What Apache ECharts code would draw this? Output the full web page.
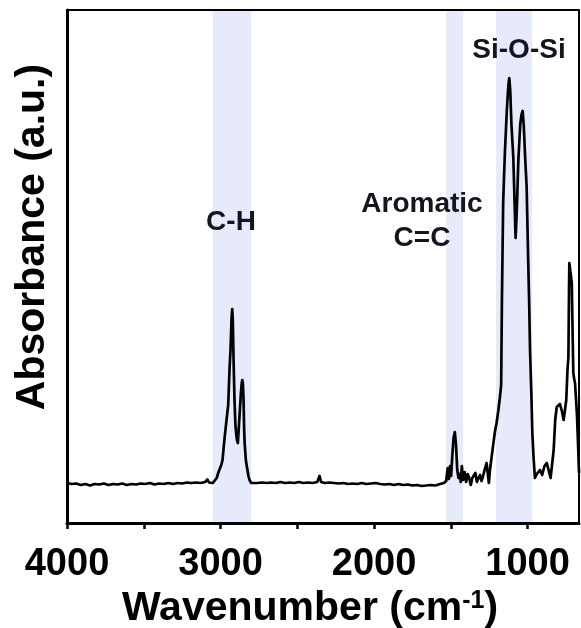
<!DOCTYPE html>
<html><head><meta charset="utf-8">
<script src="https://cdn.jsdelivr.net/npm/echarts@6/dist/echarts.min.js"></script>
<style>html,body{margin:0;padding:0;background:#fff}#c{width:581px;height:628px}</style>
</head><body><div id="c"></div>
<script>
const wavenumbers = [4000,3970,3940,3910,3880,3850,3820,3790,3760,3730,3700,3670,3640,3610,3580,3550,3520,3490,3460,3430,3400,3370,3340,3310,3280,3250,3220,3190,3160,3130,3100,3085,3075,3050,3039,3025,3013,2995,2987,2975,2963,2950,2941,2935,2928,2924,2920,2915,2909,2903,2899,2893,2887,2881,2876,2868,2862,2858,2854,2850,2846,2843,2835,2828,2818,2811,2800,2790,2760,2730,2700,2670,2640,2610,2580,2550,2520,2490,2460,2430,2400,2370,2355,2345,2320,2290,2260,2230,2200,2170,2140,2110,2080,2050,2020,1990,1960,1930,1900,1870,1840,1810,1780,1750,1720,1690,1660,1630,1600,1570,1545,1530,1520,1512,1505,1498,1490,1482,1474,1466,1458,1450,1442,1435,1428,1420,1410,1400,1390,1380,1370,1360,1350,1340,1330,1320,1310,1300,1290,1280,1267,1258,1252,1245,1235,1224,1213,1202,1190,1180,1172,1167,1159,1153,1147,1135,1125,1119,1113,1105,1093,1085,1078,1070,1060,1048,1040,1032,1025,1015,1006,996,990,984,975,969,960,952,940,930,919,905,890,875,860,850,843,830,820,810,800,789,775,765,756,748,740,734,730,728,724,718,712,707,702,695,691,684,678,671,665];
const absorbance = [40,39,39.5,38,39,37.5,39,38.5,39.5,38,39,38.5,39.5,38,39,38.5,39.5,39,40,38.5,39.5,39,40,39,40,39.5,40.5,40,40.5,40,41,43.5,40.5,40,41,45,51,58,63,83,100,118,155,173,205,214,203,163,123,98,91,83,80,95,108,128,140,143,139,123,93,80,63,56,47,43,40,39,40,40.5,40,40.5,40,41,40,40.5,40,41,40,40.5,40,41,47,41,40,40.5,40,39.5,40,39,39.5,39,40,39,39.5,40,39,38.5,39,38,39,38,38.5,37.5,38,37,37.5,38,37.5,39,40,42,55,44,57,47,68,85,91,78,53,45,49,41,57,43,51,41,49,45,38,45,43,50,41,45,48,42,47,53,60,48,40,53,65,78,91,100,113,126,138,223,320,348,373,413,438,445,433,398,366,323,285,313,363,398,408,412,398,363,336,263,223,173,128,90,63,45,49,47,53,48,57,60,51,45,43,73,103,116,118,119,111,103,101,123,153,166,233,260,261,248,240,193,150,143,140,123,107,78,50];
const tickValues = [4000,3500,3000,2500,2000,1500,1000];
const labelValues = [4000,3000,2000,1000];
const bands = [[3050,2800],[1530,1420],[1205,970]];
const bandNames = ['C-H','Aromatic\nC=C','Si-O-Si'];
const xTitle = 'Wavenumber (cm';
const yTitle = 'Absorbance (a.u.)';

const FONT = '"Liberation Sans", Arial, sans-serif';
const data = wavenumbers.map((w,i)=>[w, absorbance[i]]);
const chart = echarts.init(document.getElementById('c'), null, {renderer:'canvas'});
const xMin = 665, xMax = 4000;
chart.setOption({
  animation:false,
  backgroundColor:'#fff',
  grid:{left:67, right:2, top:10, bottom:105, containLabel:false},
  xAxis:[{
    type:'value', inverse:true, min:xMin, max:xMax, position:'bottom', z:10,
    axisLine:{show:true, lineStyle:{color:'#000', width:3}},
    axisTick:{show:true, customValues:tickValues, length:6, inside:false, lineStyle:{color:'#000', width:2.5}},
    axisLabel:{show:true, customValues:labelValues, formatter:v=>String(v), fontSize:38, fontWeight:'bold', fontFamily:FONT, color:'#000', margin:23},
    splitLine:{show:false}
  },{
    type:'value', inverse:true, min:xMin, max:xMax, position:'top', z:10,
    axisLine:{show:true, onZero:false, lineStyle:{color:'#000', width:2}},
    axisTick:{show:false}, axisLabel:{show:false}, splitLine:{show:false}
  }],
  yAxis:[{
    type:'value', min:0, max:513, position:'left', z:10,
    axisLine:{show:true, lineStyle:{color:'#000', width:3}},
    axisTick:{show:false}, axisLabel:{show:false}, splitLine:{show:false}
  },{
    type:'value', min:0, max:513, position:'right', z:10,
    axisLine:{show:true, onZero:false, lineStyle:{color:'#000', width:2}},
    axisTick:{show:false}, axisLabel:{show:false}, splitLine:{show:false}
  }],
  series:[{
    type:'line', data:data, showSymbol:false, symbol:'none',
    lineStyle:{color:'#000', width:2.7, join:'round'}, z:3,
    markArea:{silent:true, itemStyle:{color:'#e6eafa'},
      data:bands.map(b=>[{xAxis:b[0]},{xAxis:b[1]}])}
  }],
  graphic:[
    {type:'text', x:231, y:222, z:20, style:{text:bandNames[0], align:'center', verticalAlign:'middle', fontSize:28, fontWeight:'bold', fontFamily:FONT, fill:'#151520'}},
    {type:'text', x:422, y:221, z:20, style:{text:bandNames[1], align:'center', verticalAlign:'middle', fontSize:28, fontWeight:'bold', fontFamily:FONT, fill:'#151520', lineHeight:34}},
    {type:'text', x:519, y:50, z:20, style:{text:bandNames[2], align:'center', verticalAlign:'middle', fontSize:28, fontWeight:'bold', fontFamily:FONT, fill:'#151520'}},
    {type:'text', x:310, y:609, z:20, style:{text:xTitle+'{sup|-1})', align:'center', verticalAlign:'middle', fontSize:41, fontWeight:'bold', fontFamily:FONT, fill:'#000',
      rich:{sup:{fontSize:25, fontWeight:'bold', fontFamily:FONT, fill:'#000', verticalAlign:'top', padding:[0,0,16,0]}}}},
    {type:'text', x:33, y:237, rotation:Math.PI/2, z:20, style:{text:yTitle, align:'center', verticalAlign:'middle', fontSize:41, fontWeight:'bold', fontFamily:FONT, fill:'#000'}}
  ]
});
</script>
</body></html>
